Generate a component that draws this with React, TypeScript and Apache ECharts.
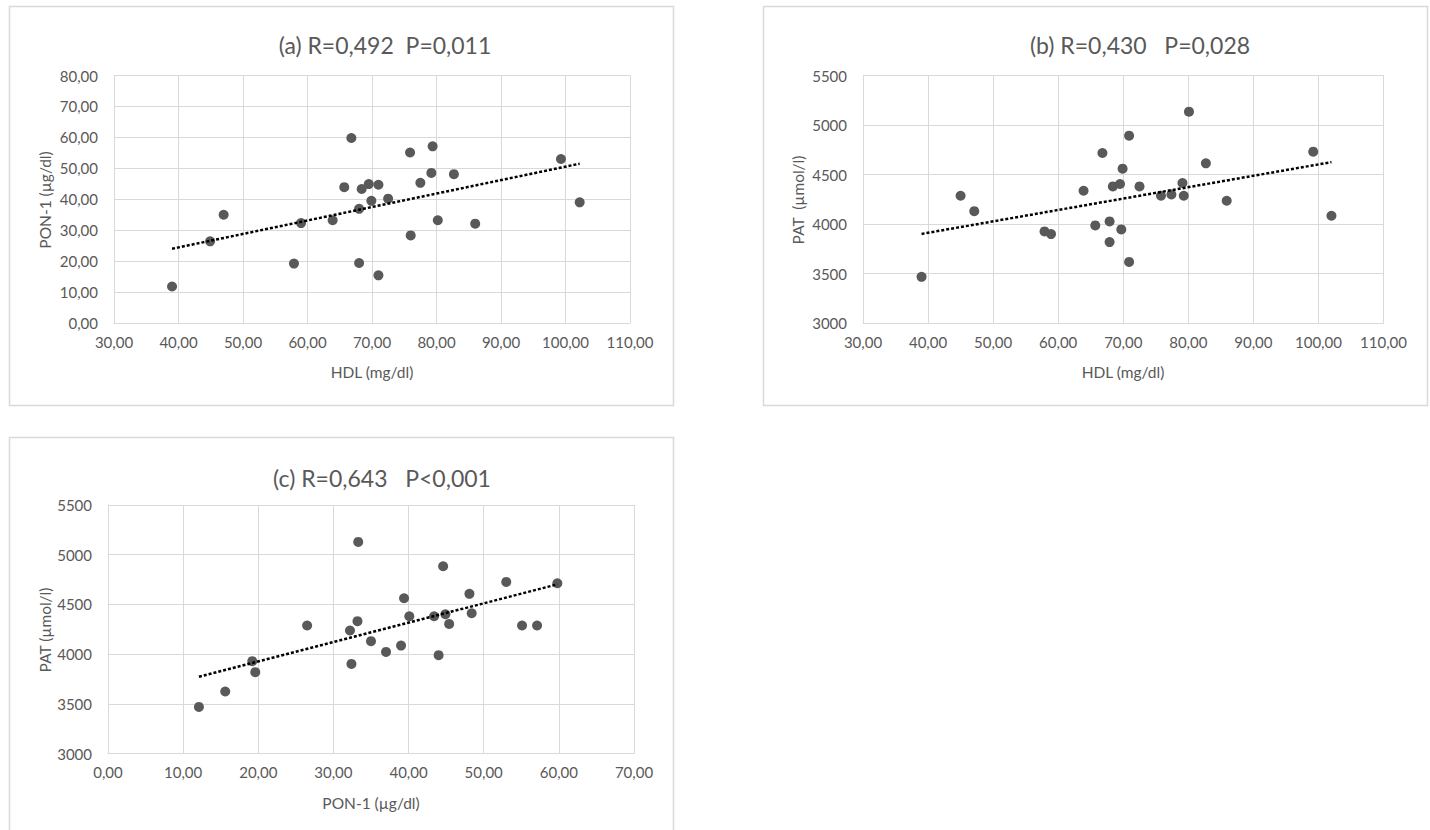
import React, { useEffect, useRef } from "react";
import * as echarts from "echarts";

// Panel (a): HDL vs PON-1
const hdlA = [39.0, 44.9, 47.0, 57.9, 59.0, 63.9, 65.7, 66.8, 68.0, 68.0, 68.4, 69.5, 69.9, 71.0, 71.0, 72.5, 75.9, 76.0, 77.5, 79.2, 79.4, 80.2, 82.7, 86.0, 99.3, 102.2];
const ponA = [11.8, 26.4, 35.0, 19.2, 32.3, 33.2, 43.9, 59.8, 36.9, 19.4, 43.3, 44.9, 39.5, 44.7, 15.4, 40.2, 55.1, 28.3, 45.3, 48.5, 57.1, 33.2, 48.1, 32.1, 53.0, 39.0];
const trendA = [[39.0, 24.0], [102.2, 51.5]];

// Panel (b): HDL vs PAT
const hdlB = [39.0, 45.0, 47.1, 57.9, 58.9, 63.9, 65.7, 66.8, 67.9, 67.9, 68.4, 69.5, 69.9, 69.7, 70.9, 70.9, 72.5, 75.8, 77.4, 79.1, 79.3, 80.1, 82.7, 85.9, 99.2, 102.0];
const patB = [3466, 4285, 4130, 3925, 3898, 4336, 3986, 4717, 4026, 3817, 4380, 4404, 4559, 3945, 4892, 3617, 4380, 4285, 4299, 4414, 4285, 5135, 4613, 4235, 4731, 4083];
const trendB = [[39.0, 3900], [102.0, 4625]];

// Panel (c): PON-1 vs PAT
const ponC = [12.1, 15.6, 19.2, 19.6, 26.5, 32.2, 32.4, 33.2, 33.3, 35.0, 37.0, 39.0, 39.4, 40.1, 43.4, 44.0, 44.6, 44.9, 45.4, 48.1, 48.4, 53.0, 55.1, 57.1, 59.8];
const patC = [3469, 3624, 3929, 3818, 4288, 4237, 3901, 4331, 5129, 4130, 4022, 4086, 4562, 4381, 4381, 3989, 4884, 4401, 4304, 4606, 4411, 4726, 4288, 4288, 4713];
const trendC = [[12.1, 3772], [59.8, 4702]];

const titles = ["(a) R=0,492  P=0,011", "(b) R=0,430   P=0,028", "(c) R=0,643   P<0,001"];
const xTitles = ["HDL (mg/dl)", "HDL (mg/dl)", "PON-1 (µg/dl)"];
const yTitles = ["PON-1 (µg/dl)", "PAT  (µmol/l)", "PAT (µmol/l)"];

const FONT = "Lato, 'Noto Sans', sans-serif";
const TXT = "#595959";
const GRID = "#d9d9d9";
const DOT = "#595959";

const comma = (v: number) => v.toFixed(2).replace(".", ",");

export default function App() {
  const ref = useRef<HTMLDivElement>(null);
  useEffect(() => {
    if (!ref.current) return;
    const chart = echarts.init(ref.current, null, { renderer: "svg" });

    const grids = [
      { left: 114, top: 75.5, width: 516, height: 247.5 },
      { left: 863, top: 75.5, width: 520.5, height: 247.5 },
      { left: 108, top: 505, width: 526, height: 248.5 },
    ];
    const xRanges = [
      { min: 30, max: 110, interval: 10, fmt: comma },
      { min: 30, max: 110, interval: 10, fmt: comma },
      { min: 0, max: 70, interval: 10, fmt: comma },
    ];
    const yRanges = [
      { min: 0, max: 80, interval: 10, fmt: comma },
      { min: 3000, max: 5500, interval: 500, fmt: (v: number) => String(v) },
      { min: 3000, max: 5500, interval: 500, fmt: (v: number) => String(v) },
    ];

    const axisCommon = {
      type: "value" as const,
      axisTick: { show: false },
      axisLine: { show: true, lineStyle: { color: GRID, width: 1 } },
      splitLine: { show: true, lineStyle: { color: GRID, width: 1 } },
    };

    const xAxis = xRanges.map((r, i) => ({
      ...axisCommon,
      gridIndex: i,
      min: r.min,
      max: r.max,
      interval: r.interval,
      axisLabel: { color: TXT, fontFamily: FONT, fontSize: 15, margin: 11, formatter: r.fmt },
    }));
    const yAxis = yRanges.map((r, i) => ({
      ...axisCommon,
      gridIndex: i,
      min: r.min,
      max: r.max,
      interval: r.interval,
      axisLabel: { color: TXT, fontFamily: FONT, fontSize: 15, margin: 16, formatter: r.fmt },
    }));

    const scatterData = [
      hdlA.map((x, i) => [x, ponA[i]]),
      hdlB.map((x, i) => [x, patB[i]]),
      ponC.map((x, i) => [x, patC[i]]),
    ];
    const trends = [trendA, trendB, trendC];

    const series: any[] = [];
    for (let i = 0; i < 3; i++) {
      series.push({
        type: "scatter",
        xAxisIndex: i,
        yAxisIndex: i,
        data: scatterData[i],
        symbol: "circle",
        symbolSize: 10,
        itemStyle: { color: DOT, opacity: 1 },
        z: 3,
      });
      series.push({
        type: "line",
        xAxisIndex: i,
        yAxisIndex: i,
        data: trends[i],
        symbol: "none",
        lineStyle: { color: "#000000", width: 2.5, type: [3, 2] },
        z: 4,
      });
    }

    const panels = [
      { x: 9, y: 6, w: 664, h: 399 },
      { x: 763, y: 6, w: 664, h: 399 },
      { x: 9, y: 437, w: 664, h: 420 },
    ];
    const titlePos = [
      { x: 385, y: 45 },
      { x: 1140, y: 45 },
      { x: 382, y: 478 },
    ];
    const xTitlePos = [
      { x: 372, y: 372 },
      { x: 1123, y: 372 },
      { x: 371, y: 803 },
    ];
    const yTitlePos = [
      { x: 45, y: 200 },
      { x: 798, y: 200 },
      { x: 45, y: 630 },
    ];

    const graphic: any[] = [];
    panels.forEach((p) => {
      graphic.push({
        type: "rect",
        shape: { x: p.x + 0.5, y: p.y + 0.5, width: p.w, height: p.h },
        style: { fill: "none", stroke: GRID, lineWidth: 1.5 },
        silent: true,
        z: -10,
      });
    });
    for (let i = 0; i < 3; i++) {
      graphic.push({
        type: "text",
        x: titlePos[i].x,
        y: titlePos[i].y,
        style: {
          text: titles[i],
          fill: TXT,
          font: `23px ${FONT}`,
          textAlign: "center",
          textVerticalAlign: "middle",
        },
      });
      graphic.push({
        type: "text",
        x: xTitlePos[i].x,
        y: xTitlePos[i].y,
        style: {
          text: xTitles[i],
          fill: TXT,
          font: `15.5px ${FONT}`,
          textAlign: "center",
          textVerticalAlign: "middle",
        },
      });
      graphic.push({
        type: "text",
        x: yTitlePos[i].x,
        y: yTitlePos[i].y,
        rotation: Math.PI / 2,
        style: {
          text: yTitles[i],
          fill: TXT,
          font: `15.5px ${FONT}`,
          textAlign: "center",
          textVerticalAlign: "middle",
        },
      });
    }

    chart.setOption({
      animation: false,
      backgroundColor: "#ffffff",
      grid: grids,
      xAxis,
      yAxis,
      series,
      graphic,
    });
    return () => chart.dispose();
  }, []);

  return (
    <div
      ref={ref}
      style={{ position: "fixed", left: 0, top: 0, width: 1430, height: 830, background: "#fff" }}
    />
  );
}
